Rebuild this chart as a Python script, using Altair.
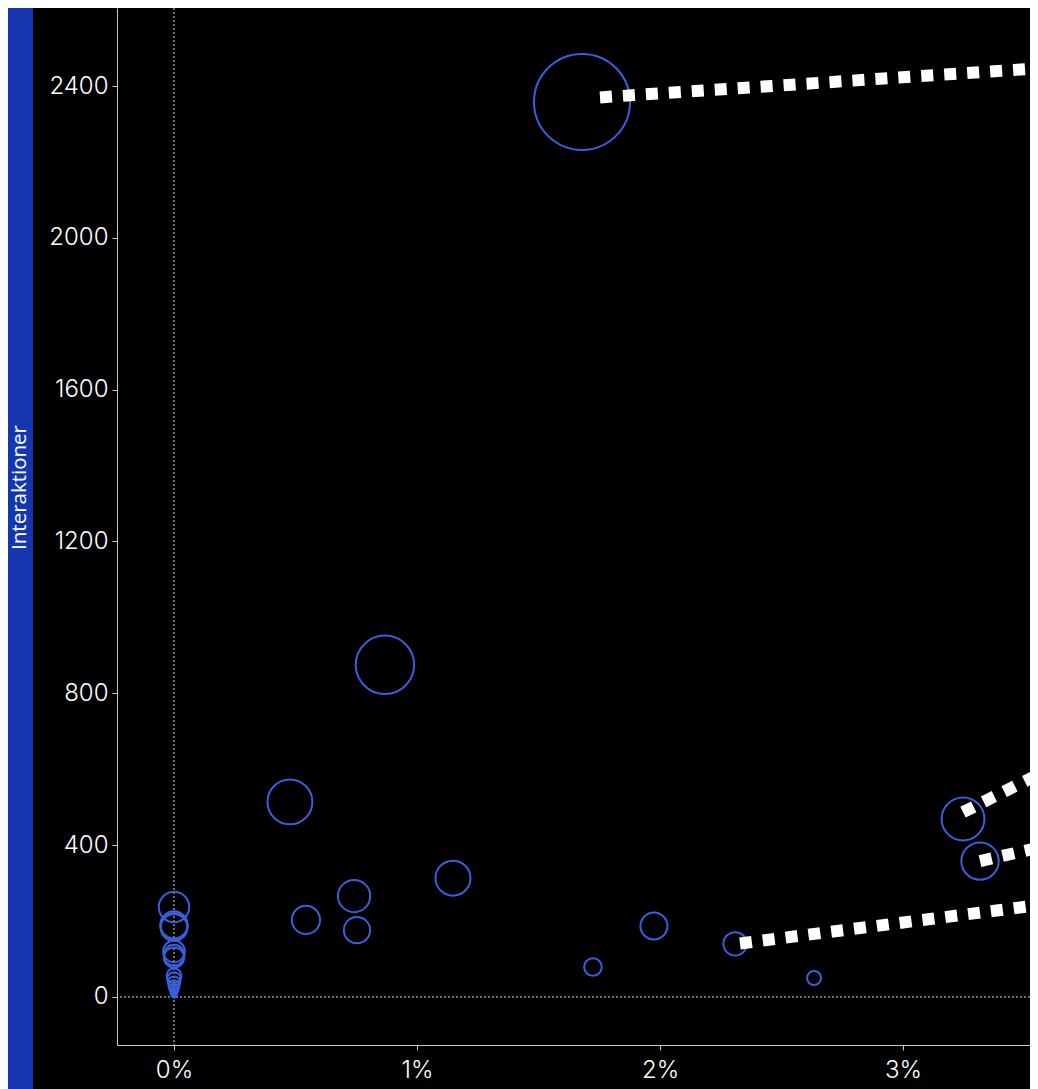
import altair as alt
import pandas as pd

# ---- data ----
rate = [1.679, 0.868, 0.477, 1.148, 0.741, 0.543, 0.753, 1.975, 2.309, 1.724, 2.634, 3.247, 3.317,
        0, 0, 0, 0, 0, 0, 0, 0, 0, 0, 0, 0, 0, 0, 0, 0, 0]
interactions = [2358, 875, 514, 313, 266, 203, 176, 187, 140, 79, 50, 469, 358,
                 237, 190, 186, 183, 120, 110, 104, 56, 47, 38, 30, 22, 15, 10, 6, 3, 1]

line_x_start = [1.753, 3.247, 3.317, 2.329]
line_y_start = [2370, 487, 358, 141]
line_x_end = [3.8, 3.8, 3.8, 3.8]
line_y_end = [2457, 664, 429, 262]

x_ticks = [0, 1, 2, 3]
y_ticks = [0, 400, 800, 1200, 1600, 2000, 2400]

pts = pd.DataFrame({"rate": rate, "Interaktioner": interactions})
lines = pd.DataFrame({"x": line_x_start, "y": line_y_start, "x2": line_x_end, "y2": line_y_end})
one = pd.DataFrame({"a": [0]})

BLUE_BG = "#1636b0"
CIRCLE = "#3a5fdc"
FONT = "Inter"

xscale = alt.Scale(domain=[-0.2346, 3.5226], nice=False, zero=False)
yscale = alt.Scale(domain=[-126.5, 2605.5], nice=False, zero=False)

xaxis = alt.Axis(values=x_ticks, labelExpr="datum.value + '%'", grid=False,
                 domainColor="#cccccc", tickColor="#cccccc", tickSize=5,
                 labelColor="white", labelFont=FONT, labelFontSize=24, labelFontWeight=300,
                 labelPadding=8, zindex=1)
yaxis = alt.Axis(values=y_ticks, format="d", grid=False,
                 domainColor="#cccccc", tickColor="#cccccc", tickSize=5,
                 labelColor="white", labelFont=FONT, labelFontSize=24, labelFontWeight=300,
                 labelPadding=4, zindex=1,
                 titleColor="white", titleFont="Open Sans", titleFontSize=20.5, titleFontWeight="normal",
                 titleAngle=270, titleX=-98, titleY=479, titleAlign="center", titleBaseline="middle")

bg = alt.Chart(one).mark_rect(color="black").encode(
    x=alt.value(-84), x2=alt.value(3000), y=alt.value(-20), y2=alt.value(3000)
)

circles = alt.Chart(pts).mark_circle(filled=False, stroke=CIRCLE, strokeWidth=2, opacity=1).encode(
    x=alt.X("rate:Q", scale=xscale, axis=xaxis, title=None),
    y=alt.Y("Interaktioner:Q", scale=yscale, axis=yaxis, title="Interaktioner"),
    size=alt.Size("Interaktioner:Q", scale=alt.Scale(domain=[0, 2358], range=[0, 9216]), legend=None),
)

zero_x = alt.Chart(one).mark_rule(color="#dddddd", strokeWidth=1, strokeDash=[2, 2]).encode(
    x=alt.datum(0, scale=xscale)
)
zero_y = alt.Chart(one).mark_rule(color="#dddddd", strokeWidth=1, strokeDash=[2, 2]).encode(
    y=alt.datum(0, scale=yscale)
)

leaders = alt.Chart(lines).mark_rule(color="white", strokeWidth=12, strokeDash=[12, 11], strokeCap="butt").encode(
    x="x:Q", y="y:Q", x2="x2:Q", y2="y2:Q"
)

chart = alt.layer(bg, zero_x, zero_y, circles, leaders).properties(
    width=913, height=1037,
    autosize=alt.AutoSizeParams(type="none"),
    padding={"left": 109, "top": 0, "right": 0, "bottom": 44},
    background=BLUE_BG,
).configure_view(strokeWidth=0)

chart.save("out.html", embed_options={"renderer": "svg", "actions": False})
